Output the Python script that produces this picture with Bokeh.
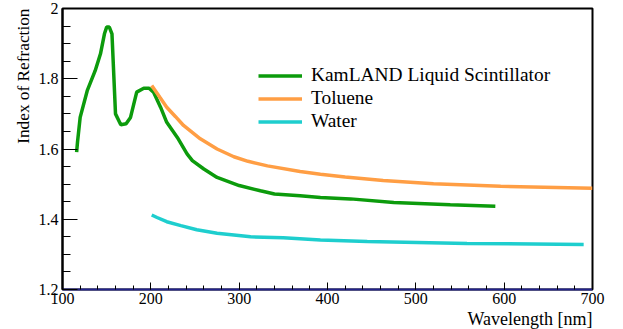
import math
from bokeh.plotting import figure
from bokeh.models import Legend, LegendItem, Title, FixedTicker, Range1d
from bokeh.embed import file_html
from bokeh.resources import INLINE

# KamLAND liquid scintillator
kam_wl = [116, 117, 120, 128, 137, 143, 147.5, 150, 153, 156, 160, 166, 172, 177, 184, 192, 198,
          203, 211, 218, 230, 241, 247, 260, 275, 300, 324, 340, 369, 392, 426, 475, 539, 590]
kam_n = [1.591, 1.62, 1.69, 1.766, 1.823, 1.871, 1.928, 1.947, 1.947, 1.928, 1.70, 1.669, 1.672,
         1.69, 1.762, 1.773, 1.773, 1.762, 1.719, 1.676, 1.633, 1.586, 1.567, 1.543, 1.519, 1.496,
         1.481, 1.472, 1.467, 1.462, 1.458, 1.448, 1.441, 1.437]

# Toluene
tol_wl = [201, 210, 218, 228, 237, 256, 275, 294, 310, 332, 369, 392, 420, 463, 520, 596, 700]
tol_n = [1.781, 1.748, 1.719, 1.692, 1.667, 1.629, 1.600, 1.578, 1.565, 1.552, 1.536, 1.528,
         1.520, 1.510, 1.501, 1.494, 1.488]

# Water
wat_wl = [201, 207, 218, 234, 252, 275, 313, 350, 392, 445, 558, 690]
wat_n = [1.412, 1.405, 1.393, 1.382, 1.370, 1.360, 1.350, 1.347, 1.341, 1.337, 1.331, 1.328]

x_ticks = [100, 200, 300, 400, 500, 600, 700]
y_ticks = [1.2, 1.4, 1.6, 1.8, 2.0]
y_tick_labels = {1.2: "1.2", 1.4: "1.4", 1.6: "1.6", 1.8: "1.8", 2.0: "2"}

FONT = "Liberation Serif"
W, H = 623, 329

p = figure(width=W, height=H, output_backend="svg", toolbar_location=None,
           x_range=Range1d(100, 700), y_range=Range1d(1.2, 2.0),
           min_border_left=62, min_border_right=31, min_border_top=8, min_border_bottom=40)
p.grid.visible = False
p.outline_line_color = "black"
p.outline_line_width = 2
p.background_fill_color = "white"
p.border_fill_color = "white"

# axes
xa = p.xaxis[0]
xa.ticker = FixedTicker(ticks=x_ticks, minor_ticks=list(range(100, 701, 20)))
xa.axis_line_color = "#22228a"
xa.axis_line_width = 2
xa.major_tick_in = 7
xa.major_tick_out = 0
xa.minor_tick_in = 4
xa.minor_tick_out = 0
xa.major_tick_line_color = "black"
xa.minor_tick_line_color = "black"
xa.major_label_text_font = FONT
xa.major_label_text_font_size = "16px"
xa.major_label_text_color = "black"
xa.major_label_standoff = 3

ya = p.yaxis[0]
ya.ticker = FixedTicker(ticks=y_ticks, minor_ticks=[1.2 + 0.05 * i for i in range(17)])
ya.major_label_overrides = y_tick_labels
ya.axis_line_color = "black"
ya.axis_line_width = 2
ya.major_tick_in = 15
ya.major_tick_out = 0
ya.minor_tick_in = 8
ya.minor_tick_out = 0
ya.major_tick_line_color = "black"
ya.minor_tick_line_color = "black"
ya.major_label_text_font = FONT
ya.major_label_text_font_size = "16px"
ya.major_label_text_color = "black"
ya.major_label_standoff = 4

r_kam = p.line(kam_wl, kam_n, line_color="#0c9b0c", line_width=3.5)
r_tol = p.line(tol_wl, tol_n, line_color="#ff9e44", line_width=3.5)
r_wat = p.line(wat_wl, wat_n, line_color="#1ecece", line_width=3.5)

legend = Legend(items=[
    LegendItem(label="KamLAND Liquid Scintillator", renderers=[r_kam]),
    LegendItem(label="Toluene", renderers=[r_tol]),
    LegendItem(label="Water", renderers=[r_wat]),
], location=(196, 157), padding=0, margin=0, spacing=1,
    glyph_width=44, glyph_height=21, label_height=21, label_standoff=9,
    label_text_font=FONT, label_text_font_size="19.4px", label_text_color="black",
    background_fill_alpha=0, border_line_alpha=0)
p.add_layout(legend)

p.add_layout(Title(text="Index of Refraction", align="right", text_font=FONT,
                   text_font_size="17.3px", text_font_style="normal", text_color="black",
                   standoff=5), "left")
p.add_layout(Title(text="Wavelength [nm]", align="right", text_font=FONT,
                   text_font_size="18px", text_font_style="normal", text_color="black",
                   standoff=0), "below")

open("out.html", "w").write(file_html(p, INLINE))
